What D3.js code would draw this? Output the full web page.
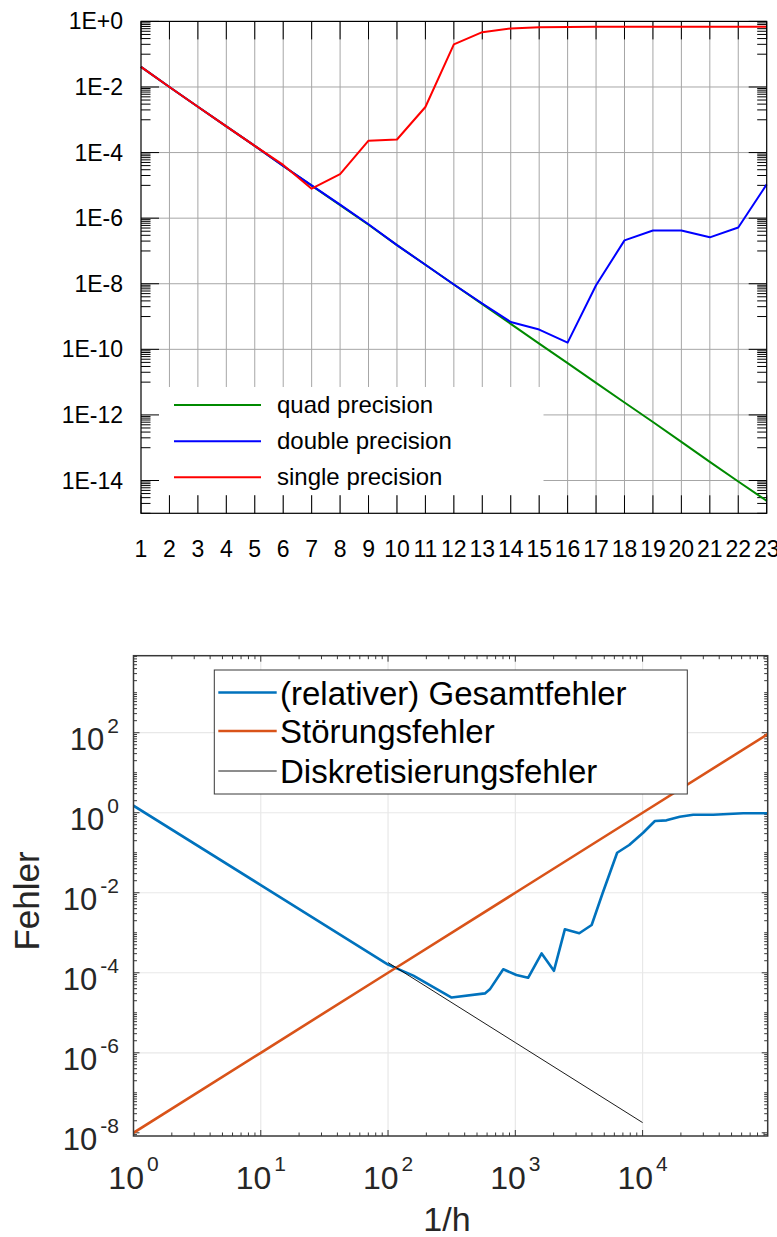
<!DOCTYPE html>
<html>
<head>
<meta charset="utf-8">
<script src="https://cdn.jsdelivr.net/npm/d3@7"></script>
<style>
  body { margin: 0; background: #fff; }
  svg { display: block; }
  text { font-family: "Liberation Sans", Arial, Helvetica, sans-serif; }
</style>
</head>
<body>
<svg id="chart" width="777" height="1237"></svg>
<script>
// ---- upper panel: error vs. refinement step for three float precisions ----
const steps = [1,2,3,4,5,6,7,8,9,10,11,12,13,14,15,16,17,18,19,20,21,22,23];
const quadErr = [4.1e-2,1.0e-2,2.5e-3,6.3e-4,1.6e-4,3.9e-5,9.8e-6,2.5e-6,6.3e-7,1.5e-7,3.8e-8,9.5e-9,
                 2.4e-9,6.0e-10,1.5e-10,3.8e-11,9.5e-12,2.4e-12,6.1e-13,1.5e-13,3.7e-14,9.3e-15,2.4e-15];
const doubleErr = [4.1e-2,1.0e-2,2.5e-3,6.3e-4,1.6e-4,3.9e-5,1.0e-5,2.6e-6,6.5e-7,1.5e-7,3.8e-8,9.5e-9,
                   2.5e-9,6.8e-10,4.0e-10,1.6e-10,9.0e-9,2.1e-7,4.2e-7,4.2e-7,2.6e-7,5.2e-7,1.07e-5];
const singleErr = [4.1e-2,1.0e-2,2.5e-3,6.3e-4,1.6e-4,4.2e-5,7.9e-6,2.2e-5,2.3e-4,2.5e-4,2.45e-3,0.2,
                   0.47,0.61,0.66,0.68,0.69,0.69,0.69,0.69,0.69,0.69,0.69];
const topYTicks = [1e0,1e-2,1e-4,1e-6,1e-8,1e-10,1e-12,1e-14];
const topYLabels = ["1E+0","1E-2","1E-4","1E-6","1E-8","1E-10","1E-12","1E-14"];
const topSeries = [
  { name: "quad precision",   values: quadErr,   color: "#008a00" },
  { name: "double precision", values: doubleErr, color: "#0000ff" },
  { name: "single precision", values: singleErr, color: "#ff0000" }
];

// ---- lower panel: total, rounding and discretisation error vs. 1/h ----
const invH = [1,10,100,158,316,577,631,804,1020,1260,1610,2010,2450,3180,3980,4850,6310,7850,
              10100,12500,15400,19600,25000,35900,61700,96000];
const totalErr = [1.5,1.55e-2,1.6e-4,8.5e-5,2.4e-5,3.05e-5,3.85e-5,1.22e-4,8.8e-5,7.5e-5,3.05e-4,1.12e-4,
                  1.22e-3,9.7e-4,1.56e-3,9.7e-3,0.1,0.156,0.316,0.62,0.645,0.79,0.89,0.89,0.97,0.97];
const roundInvH = [1,10,100,1000,10000,96000];
const roundErr = [1e-8,1e-6,1e-4,1e-2,1,92];
const discInvH = [100,1000,10000];
const discErr = [1.8e-4,1.8e-6,1.8e-8];
const botXTicks = [1e0,1e1,1e2,1e3,1e4];
const botXExp = ["0","1","2","3","4"];
const botYTicks = [1e-8,1e-6,1e-4,1e-2,1e0,1e2];
const botYExp = ["-8","-6","-4","-2","0","2"];
const botSeries = [
  { name: "(relativer) Gesamtfehler", x: invH, y: totalErr, color: "#0072bd", width: 2.6 },
  { name: "Störungsfehler", x: roundInvH, y: roundErr, color: "#d95319", width: 2.6 },
  { name: "Diskretisierungsfehler", x: discInvH, y: discErr, color: "#000000", width: 0.9 }
];

const svg = d3.select("#chart");

// ================= upper panel =================
{
  const L = 141, R = 766.7, T = 21.4, B = 513.3;
  const x = d3.scaleLinear().domain([1, 23]).range([L, R]);
  const y = d3.scaleLog().domain([1e-15, 1]).range([B, T]);
  const g = svg.append("g");

  // grid
  g.append("g").selectAll("line").data(steps.slice(1, -1)).join("line")
    .attr("x1", d => x(d)).attr("x2", d => x(d)).attr("y1", T).attr("y2", B)
    .attr("stroke", "#a6a6a6").attr("stroke-width", 1);
  g.append("g").selectAll("line").data(topYTicks.slice(1)).join("line")
    .attr("x1", L).attr("x2", R).attr("y1", d => y(d)).attr("y2", d => y(d))
    .attr("stroke", "#a6a6a6").attr("stroke-width", 1);

  // legend background
  g.append("rect").attr("x", L + 0.5).attr("y", 387).attr("width", 543 - L).attr("height", 495 - 387)
    .attr("fill", "#fff");

  // ticks (mirrored on all four sides)
  const minor = [];
  for (let e = -15; e <= 0; e++) {
    if (e % 2 !== 0) for (let k = 1; k <= 9; k++) minor.push(k * Math.pow(10, e));
  }
  const tk = g.append("g").attr("stroke", "#000").attr("stroke-width", 1);
  steps.forEach(s => {
    tk.append("line").attr("x1", x(s)).attr("x2", x(s)).attr("y1", B).attr("y2", B - 18);
    tk.append("line").attr("x1", x(s)).attr("x2", x(s)).attr("y1", T).attr("y2", T + 18);
  });
  topYTicks.forEach(v => {
    tk.append("line").attr("x1", L).attr("x2", L + 18).attr("y1", y(v)).attr("y2", y(v));
    tk.append("line").attr("x1", R).attr("x2", R - 18).attr("y1", y(v)).attr("y2", y(v));
  });
  minor.filter(v => v >= 1e-15 && v <= 1).forEach(v => {
    tk.append("line").attr("x1", L).attr("x2", L + 9.5).attr("y1", y(v)).attr("y2", y(v));
    tk.append("line").attr("x1", R).attr("x2", R - 9.5).attr("y1", y(v)).attr("y2", y(v));
  });

  // series
  const line = d3.line().x((d, i) => x(steps[i])).y(d => y(d));
  topSeries.forEach(s => {
    g.append("path").attr("d", line(s.values)).attr("fill", "none")
      .attr("stroke", s.color).attr("stroke-width", 2).attr("stroke-linejoin", "round");
  });

  // frame
  g.append("rect").attr("x", L).attr("y", T).attr("width", R - L).attr("height", B - T)
    .attr("fill", "none").attr("stroke", "#000").attr("stroke-width", 1.2);

  // tick labels
  g.append("g").selectAll("text").data(steps).join("text")
    .attr("x", d => x(d)).attr("y", 557).attr("text-anchor", "middle")
    .attr("font-size", 23).attr("fill", "#000").text(d => d);
  g.append("g").selectAll("text").data(topYTicks).join("text")
    .attr("x", 123).attr("y", d => y(d) + 8).attr("text-anchor", "end")
    .attr("font-size", 23).attr("fill", "#000").text((d, i) => topYLabels[i]);

  // legend
  const rows = [405, 441.3, 477.3];
  topSeries.forEach((s, i) => {
    g.append("line").attr("x1", 174).attr("x2", 261).attr("y1", rows[i]).attr("y2", rows[i])
      .attr("stroke", s.color).attr("stroke-width", 2);
    g.append("text").attr("x", 277).attr("y", rows[i] + 8).attr("font-size", 24)
      .attr("fill", "#000").text(s.name);
  });
}

// ================= lower panel =================
{
  const L = 133.5, R = 767.7, T = 655.7, B = 1136;
  const x = d3.scaleLog().domain([1, Math.pow(10, 4.983)]).range([L, R]);
  const y = d3.scaleLog().domain([Math.pow(10, -8.08), Math.pow(10, 3.925)]).range([B, T]);
  const g = svg.append("g");
  const axisColor = "#383838";

  g.append("defs").append("clipPath").attr("id", "clipB")
    .append("rect").attr("x", L).attr("y", T).attr("width", R - L).attr("height", B - T);

  // grid
  g.append("g").selectAll("line").data(botXTicks.slice(1)).join("line")
    .attr("x1", d => x(d)).attr("x2", d => x(d)).attr("y1", T).attr("y2", B)
    .attr("stroke", "#e8e8e8").attr("stroke-width", 1.2);
  g.append("g").selectAll("line").data(botYTicks.slice(1)).join("line")
    .attr("x1", L).attr("x2", R).attr("y1", d => y(d)).attr("y2", d => y(d))
    .attr("stroke", "#e8e8e8").attr("stroke-width", 1.2);

  // ticks
  const tk = g.append("g").attr("stroke", axisColor).attr("stroke-width", 1);
  const [x0, x1] = x.domain();
  for (let e = 0; e <= 4; e++) {
    for (let k = 1; k <= 9; k++) {
      const v = k * Math.pow(10, e);
      if (v < x0 || v > x1) continue;
      const len = k === 1 ? 6 : 3.5;
      tk.append("line").attr("x1", x(v)).attr("x2", x(v)).attr("y1", B).attr("y2", B - len);
      tk.append("line").attr("x1", x(v)).attr("x2", x(v)).attr("y1", T).attr("y2", T + len);
    }
  }
  const [y0, y1] = y.domain();
  for (let e = -9; e <= 3; e++) {
    for (let k = 1; k <= 9; k++) {
      const v = k * Math.pow(10, e);
      if (v < y0 || v > y1) continue;
      const len = (k === 1 && e % 2 === 0) ? 6 : 3.5;
      tk.append("line").attr("x1", L).attr("x2", L + len).attr("y1", y(v)).attr("y2", y(v));
      tk.append("line").attr("x1", R).attr("x2", R - len).attr("y1", y(v)).attr("y2", y(v));
    }
  }

  // series
  const plot = g.append("g").attr("clip-path", "url(#clipB)");
  botSeries.forEach(s => {
    const line = d3.line().x((d, i) => x(s.x[i])).y(d => y(d));
    plot.append("path").attr("d", line(s.y)).attr("fill", "none")
      .attr("stroke", s.color).attr("stroke-width", s.width).attr("stroke-linejoin", "round");
  });

  // frame
  g.append("rect").attr("x", L).attr("y", T).attr("width", R - L).attr("height", B - T)
    .attr("fill", "none").attr("stroke", axisColor).attr("stroke-width", 1.5);

  // tick labels with superscript exponents
  const xl = g.append("g").attr("fill", "#262626");
  botXTicks.forEach((v, i) => {
    const t = xl.append("text").attr("x", x(v)).attr("y", 1188.5).attr("text-anchor", "middle")
      .attr("font-size", 32);
    t.append("tspan").text("10");
    t.append("tspan").attr("dx", 3).attr("dy", -18).attr("font-size", 21).text(botXExp[i]);
  });
  const yl = g.append("g").attr("fill", "#262626");
  botYTicks.forEach((v, i) => {
    const t = yl.append("text").attr("x", 119).attr("y", y(v) + 17).attr("text-anchor", "end")
      .attr("font-size", 31);
    t.append("tspan").text("10");
    t.append("tspan").attr("dx", 3).attr("dy", -17).attr("font-size", 21).text(botYExp[i]);
  });

  // axis titles
  g.append("text").attr("x", 447).attr("y", 1231).attr("text-anchor", "middle")
    .attr("font-size", 34).attr("fill", "#262626").text("1/h");
  g.append("text").attr("transform", "translate(39,901) rotate(-90)").attr("text-anchor", "middle")
    .attr("font-size", 35).attr("fill", "#262626").text("Fehler");

  // legend
  g.append("rect").attr("x", 214.3).attr("y", 670).attr("width", 687.3 - 214.3).attr("height", 794 - 670)
    .attr("fill", "#fff").attr("stroke", axisColor).attr("stroke-width", 1);
  const rows = [692.5, 731, 771];
  botSeries.forEach((s, i) => {
    g.append("line").attr("x1", 218.3).attr("x2", 276.7).attr("y1", rows[i]).attr("y2", rows[i])
      .attr("stroke", s.color).attr("stroke-width", s.width);
    g.append("text").attr("x", 280).attr("y", rows[i] + 12).attr("font-size", 33)
      .attr("fill", "#000").text(s.name);
  });
}
</script>
</body>
</html>
